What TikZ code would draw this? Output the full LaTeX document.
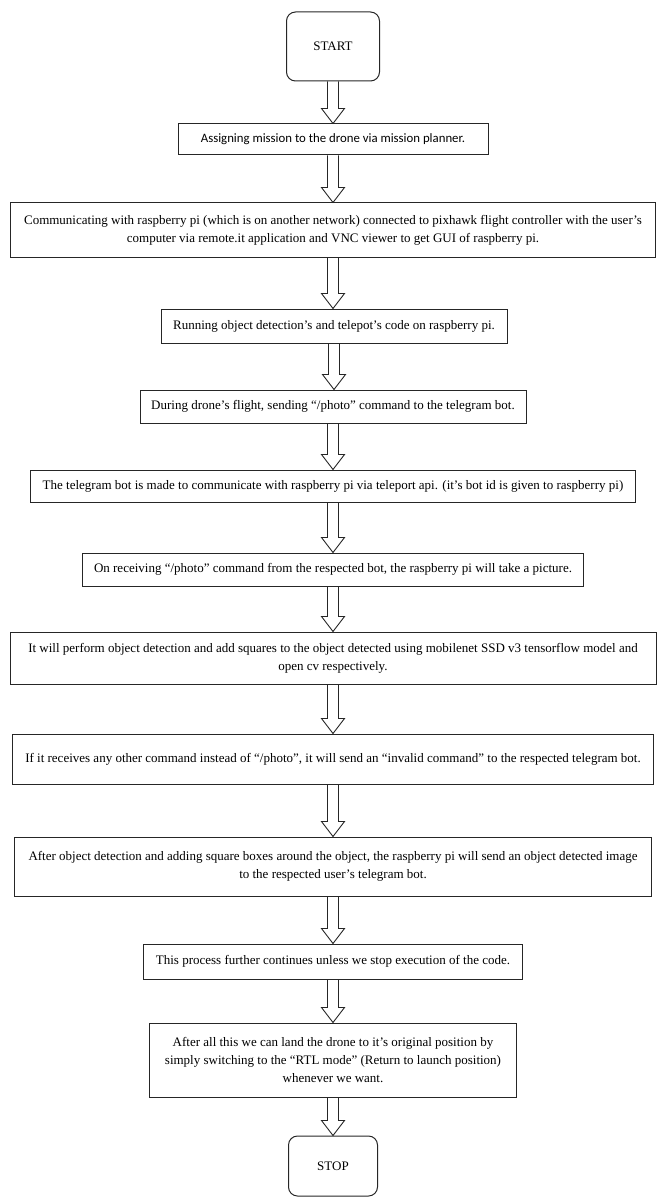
\documentclass[tikz,border=0pt]{standalone}
\usepackage{fontspec}
\setmainfont{Liberation Serif}
\newfontfamily\calibrifont{Carlito}
\usetikzlibrary{calc}

\begin{document}
\begin{tikzpicture}[
  x=1pt, y=-1pt,
  font=\fontsize{13}{18}\selectfont,
  stepbox/.style={draw=black!85, line width=1pt, align=center, inner sep=2pt},
  terminal/.style={stepbox, rounded corners=9pt},
  blockflow/.style={draw=black!85, line width=.9pt, line join=miter,
    to path={let \p1=(\tikztostart), \p2=(\tikztotarget) in
      (\x1-5.5pt,\y1) -- (\x1-5.5pt,\y2+15pt) -- (\x1-11.5pt,\y2+15pt) -- (\x1,\y2)
      -- (\x1+11.5pt,\y2+15pt) -- (\x1+5.5pt,\y2+15pt) -- (\x1+5.5pt,\y1)}}
]
  \useasboundingbox (0,0) rectangle (656,1198);

  \node[terminal, minimum width=93pt, minimum height=69pt] (start) at (333,46.5) {START};
  \node[stepbox, minimum width=310pt, minimum height=31pt, font=\calibrifont\fontsize{12.8}{18}\selectfont] (assign) at (333,139.5) {Assigning mission to the drone via mission planner.};
  \node[stepbox, minimum width=645pt, minimum height=54pt] (connect) at (333,230) {Communicating with raspberry pi (which is on another network) connected to pixhawk flight controller with the user’s\\computer via remote.it application and VNC viewer to get GUI of raspberry pi.};
  \node[stepbox, minimum width=346pt, minimum height=34pt] (runcode) at (334,326) {Running object detection’s and telepot’s code on raspberry pi.};
  \node[stepbox, minimum width=386pt, minimum height=33pt] (flight) at (333,406.5) {During drone’s flight, sending “/photo” command to the telegram bot.};
  \node[stepbox, minimum width=605pt, minimum height=32pt] (telebot) at (333,486) {The telegram bot is made to communicate with raspberry pi via teleport api. (it’s bot id is given to raspberry pi)};
  \node[stepbox, minimum width=501pt, minimum height=33pt] (receive) at (333,569.5) {On receiving “/photo” command from the respected bot, the raspberry pi will take a picture.};
  \node[stepbox, minimum width=646pt, minimum height=52pt] (detect) at (333,658) {It will perform object detection and add squares to the object detected using mobilenet SSD v3 tensorflow model and\\open cv respectively.};
  \node[stepbox, minimum width=641pt, minimum height=50pt] (invalid) at (333,759) {If it receives any other command instead of “/photo”, it will send an “invalid command” to the respected telegram bot.};
  \node[stepbox, minimum width=637pt, minimum height=59pt] (sendimg) at (333,866.5) {After object detection and adding square boxes around the object, the raspberry pi will send an object detected image\\to the respected user’s telegram bot.};
  \node[stepbox, minimum width=379pt, minimum height=35pt] (repeat) at (333,961.5) {This process further continues unless we stop execution of the code.};
  \node[stepbox, minimum width=367pt, minimum height=74pt] (land) at (333,1060) {After all this we can land the drone to it’s original position by\\simply switching to the “RTL mode” (Return to launch position)\\whenever we want.};
  \node[terminal, minimum width=89pt, minimum height=60pt] (stop) at (333,1166) {STOP};

  \foreach \a/\b in {start/assign, assign/connect, connect/runcode, runcode/flight, flight/telebot, telebot/receive, receive/detect, detect/invalid, invalid/sendimg, sendimg/repeat, repeat/land, land/stop}
    \draw[blockflow] (\a.south) to (\b.north);
\end{tikzpicture}
\end{document}
